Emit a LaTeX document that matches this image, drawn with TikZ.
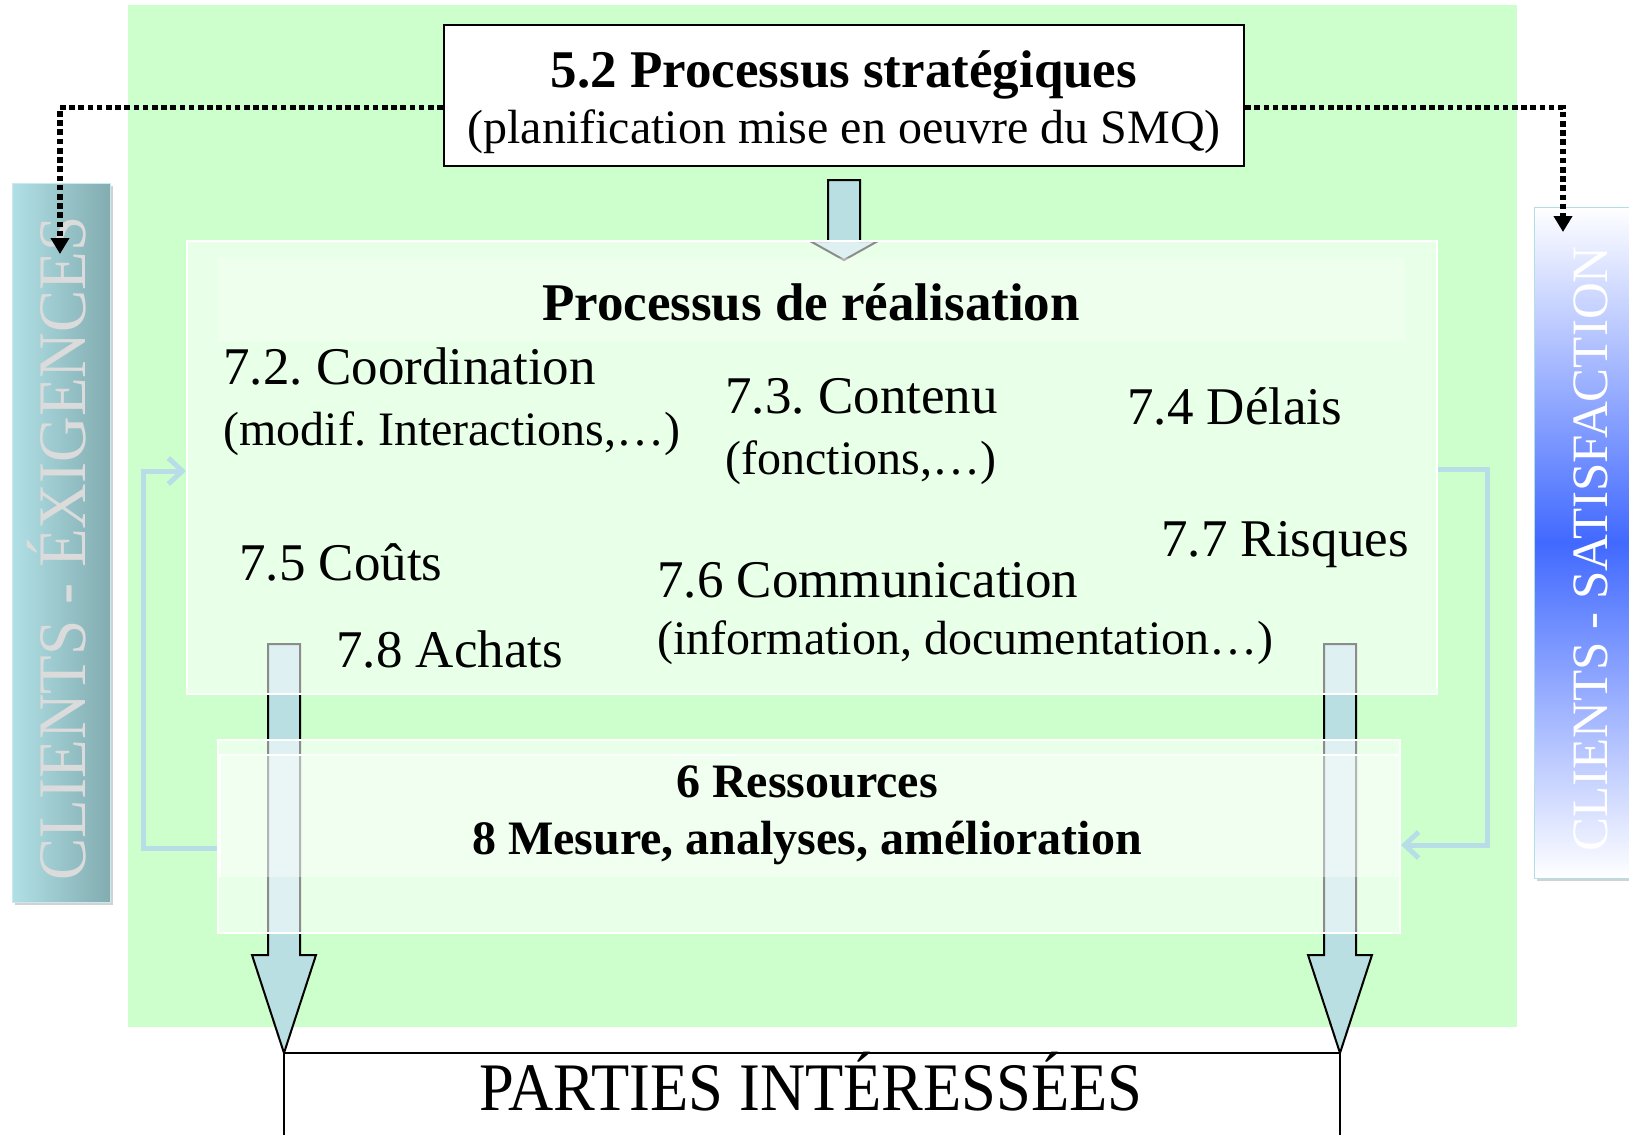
\documentclass[tikz,border=0pt]{standalone}
\usepackage{fontspec}
\setmainfont{Liberation Serif}
\usepackage{graphicx}
\usetikzlibrary{arrows.meta,positioning,shadows}

\definecolor{smqgreen}{RGB}{204,255,204}
\definecolor{flowblue}{RGB}{186,223,227}
\definecolor{loopblue}{RGB}{184,221,230}
\definecolor{exigleft}{RGB}{176,224,230}
\definecolor{exigright}{RGB}{130,172,176}
\definecolor{satisblue}{RGB}{65,105,255}
\newcommand{\txtsize}[1]{\fontsize{#1}{#1}\selectfont}
\frenchspacing

\begin{document}
\begin{tikzpicture}[x=0.5pt, y=-0.5pt,
  panel/.style={draw=white, line width=1pt, fill=white, fill opacity=0.55, inner sep=0pt},
  head/.style={anchor=base west, font=\txtsize{26.5pt}, inner sep=0pt},
  sub/.style={anchor=base west, font=\txtsize{24pt}, inner sep=0pt},
  flow/.style={draw=black, line width=1pt, fill=flowblue},
  backloop/.style={draw=loopblue, line width=2.5pt, -{Straight Barb[length=7pt,width=13pt]}},
  dots/.style={line width=2.8pt, dash pattern=on 2.8pt off 1.8pt, -{Triangle[length=8pt,width=9pt]}},
  sidebar/.style={inner sep=0pt, drop shadow={shadow xshift=1.5pt, shadow yshift=-1.5pt, opacity=0.35}}
]
\clip (0,0) rectangle (1629,1135);
\fill[white] (0,0) rectangle (1629,1135);

% green background of the SMQ
\fill[smqgreen] (128,5) rectangle (1517,1027);

% big flow arrows, drawn first so the panels lighten them
\draw[flow] (828,180) -- (860,180) -- (860,241) -- (878,241) -- (844,260) -- (810,241) -- (828,241) -- cycle;
\foreach \ax in {284,1340} {
  \draw[flow] (\ax-16,644) -- (\ax+16,644) -- (\ax+16,955) -- (\ax+32,955)
    -- (\ax,1053) -- (\ax-32,955) -- (\ax-16,955) -- cycle;
}

% panels
\node[panel, minimum width=625pt, minimum height=226.5pt] (real) at (812,467.5) {};
\fill[white, opacity=0.3] (218,258) rectangle (1405,341);
\node[panel, minimum width=591pt, minimum height=96.5pt] (ress) at (809,836.5) {};
\fill[white, opacity=0.35] (220,755) rectangle (1400,877);
\draw[white, line width=1pt] (220,877) -- (220,755) -- (1400,755) -- (1400,877);

% strategic process
\node[draw, line width=1.2pt, fill=white, minimum width=400pt, minimum height=70.5pt, inner sep=0pt] (strat) at (844,95.5) {};
\node[anchor=base, font=\bfseries\txtsize{26.5pt}] (strattitle) at (844,87) {5.2 Processus stratégiques};
\node[anchor=base, font=\txtsize{24pt}] (stratsub) at (844,143) {(planification mise en oeuvre du SMQ)};

% realisation
\node[anchor=base, font=\bfseries\txtsize{26.5pt}] (realtitle) at (811,320) {Processus de réalisation};
\node[head] (coord) at (223,384) {7.2. Coordination};
\node[sub] (coordsub) at (223,445) {(modif. Interactions,…)};
\node[head] (contenu) at (725,413) {7.3. Contenu};
\node[sub] (contenusub) at (725,474) {(fonctions,…)};
\node[head] (delais) at (1127,424) {7.4 Délais};
\node[head] (couts) at (239,580) {7.5 Coûts};
\node[head] (comm) at (657,597) {7.6 Communication};
\node[sub] (commsub) at (657,654) {(information, documentation…)};
\node[head] (risques) at (1161,556) {7.7 Risques};
\node[head] (achats) at (336,667) {7.8 Achats};

% resources and measurement
\node[anchor=base, font=\bfseries\txtsize{24pt}] (resstxt) at (807,797) {6 Ressources};
\node[anchor=base, font=\bfseries\txtsize{24pt}] (mesure) at (807,854) {8 Mesure, analyses, amélioration};

% feedback loops
\draw[backloop] (ress.west |- 0,848) -| (143,471) -- (real.west |- 0,471);
\draw[backloop] (real.east |- 0,469) -| (1487,845) -- (ress.east |- 0,845);

% customers
\node[sidebar, left color=exigleft, right color=exigright, draw=exigleft!70!white,
  minimum width=49pt, minimum height=359.5pt] (exig) at (61,542.5) {};
\node[anchor=base, rotate=90, text=white!72!gray, font=\txtsize{34pt}, inner sep=0pt] (exigtxt) at (85,548.5)
  {\scalebox{0.93}[1]{CLIENTS - ÉXIGENCES}};
\node[sidebar, top color=white, bottom color=white, middle color=satisblue, draw=exigleft,
  minimum width=50pt, minimum height=335.5pt] (satis) at (1584,542.5) {};
\node[anchor=base, rotate=90, text=white, font=\txtsize{25.5pt}, inner sep=0pt] (satistxt) at (1607,549)
  {CLIENTS - SATISFACTION};

% dotted links from the strategic process
\coordinate (exigin) at (60,254);
\coordinate (satisin) at (1563,232);
\draw[dots] ([yshift=-6pt]strat.west) -| (exigin);
\draw[dots] ([yshift=-6pt]strat.east) -| (satisin);

% interested parties
\node[draw, line width=1pt, minimum width=528pt, minimum height=60pt, inner sep=0pt] (parties) at (812,1113) {};
\node[anchor=base, font=\txtsize{34pt}] (partiestxt) at (811,1110) {\scalebox{0.92}[1]{PARTIES INTÉRESSÉES}};
\end{tikzpicture}
\end{document}
